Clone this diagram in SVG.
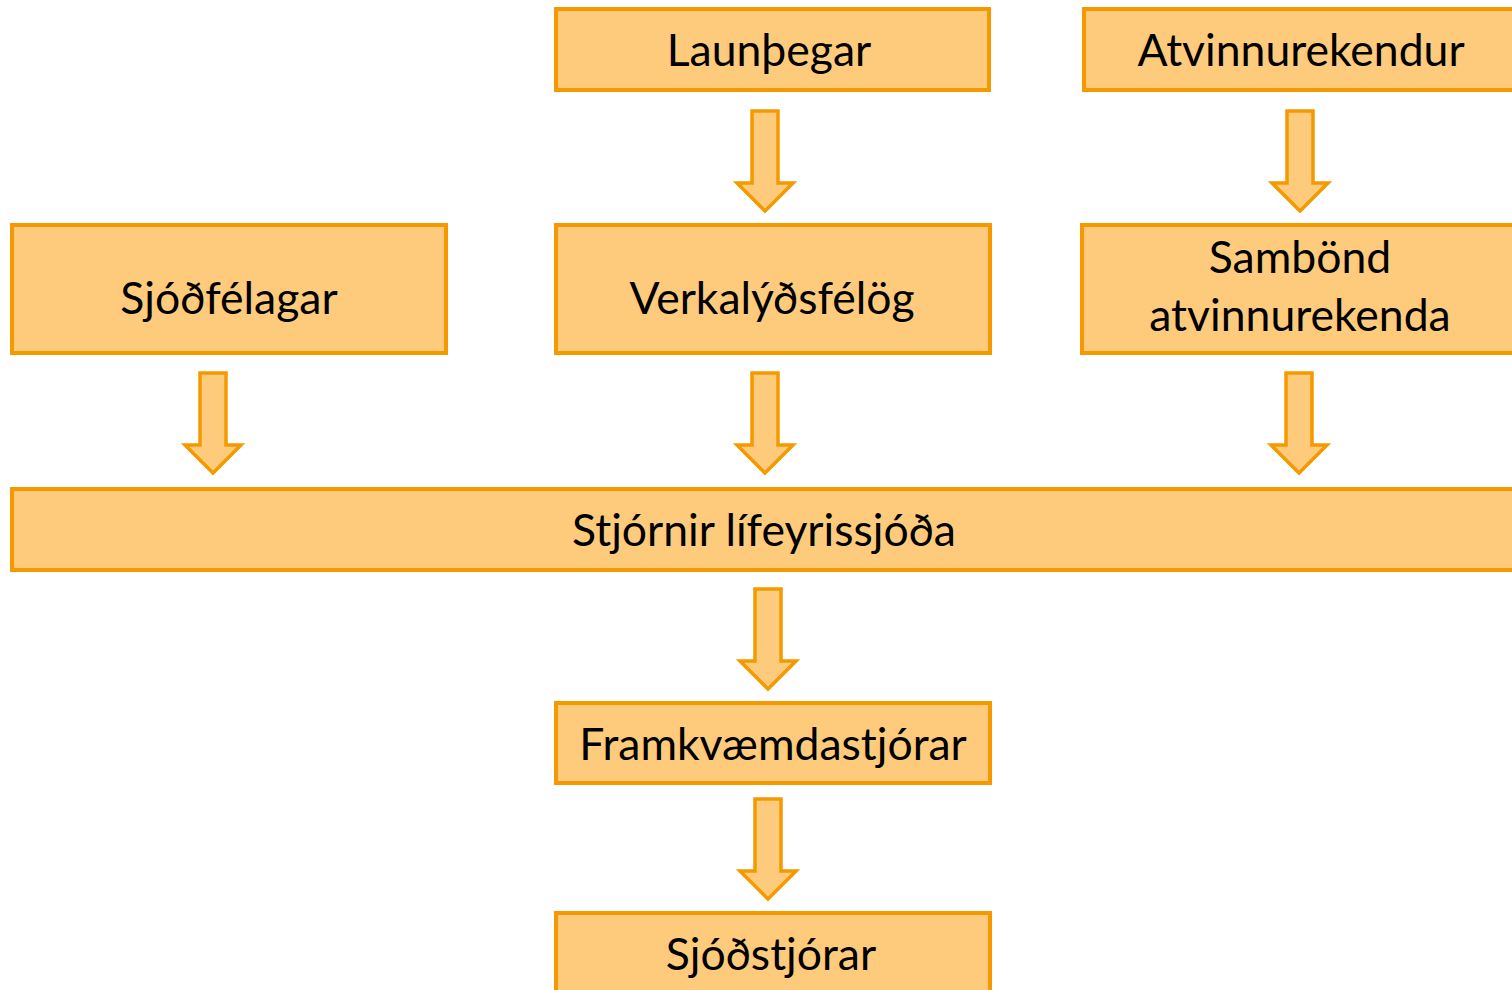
<svg xmlns="http://www.w3.org/2000/svg" width="1512" height="990" viewBox="0 0 1512 990">
<style>
.box{fill:#FECB7C;stroke:#F49A00;stroke-width:4}
.arr{fill:#FECB7C;stroke:#F49A00;stroke-width:3.5;stroke-linejoin:miter}
.t{font-family:Lato,"Open Sans",sans-serif;font-size:44.5px;fill:#000;text-anchor:middle}
</style>
<defs>
<path id="a" d="M-13,0 H13 V72 H28 L0,100 L-28,72 H-13 Z"/>
</defs>
<rect width="1512" height="990" fill="#fff"/>
<g id="launthegar"><rect class="box" x="556" y="9" width="433" height="81"/><text class="t" x="769" y="66">Launþegar</text></g>
<g id="atvinnurekendur"><rect class="box" x="1084" y="9" width="440" height="81"/><text class="t" x="1301" y="66">Atvinnurekendur</text></g>
<g id="sjodfelagar"><rect class="box" x="12" y="225" width="434" height="128"/><text class="t" x="229" y="314">Sjóðfélagar</text></g>
<g id="verkalydsfelog"><rect class="box" x="556" y="225" width="434" height="128"/><text class="t" x="772" y="314">Verkalýðsfélög</text></g>
<g id="sambond"><rect class="box" x="1082" y="225" width="442" height="128"/><text class="t" x="1300" y="273">Sambönd</text><text class="t" x="1300" y="331">atvinnurekenda</text></g>
<g id="stjornir"><rect class="box" x="12" y="489" width="1512" height="81"/><text class="t" x="764" y="546">Stjórnir lífeyrissjóða</text></g>
<g id="framkvaemdastjorar"><rect class="box" x="556" y="703" width="434" height="80"/><text class="t" x="773" y="760">Framkvæmdastjórar</text></g>
<g id="sjodstjorar"><rect class="box" x="556" y="913" width="434" height="90"/><text class="t" x="771" y="970">Sjóðstjórar</text></g>
<g id="connectors">
<use href="#a" class="arr" transform="translate(765,111)"/>
<use href="#a" class="arr" transform="translate(1300,111)"/>
<use href="#a" class="arr" transform="translate(213,373)"/>
<use href="#a" class="arr" transform="translate(765,373)"/>
<use href="#a" class="arr" transform="translate(1299,373)"/>
<use href="#a" class="arr" transform="translate(768,589)"/>
<use href="#a" class="arr" transform="translate(768,799)"/>
</g>
</svg>
